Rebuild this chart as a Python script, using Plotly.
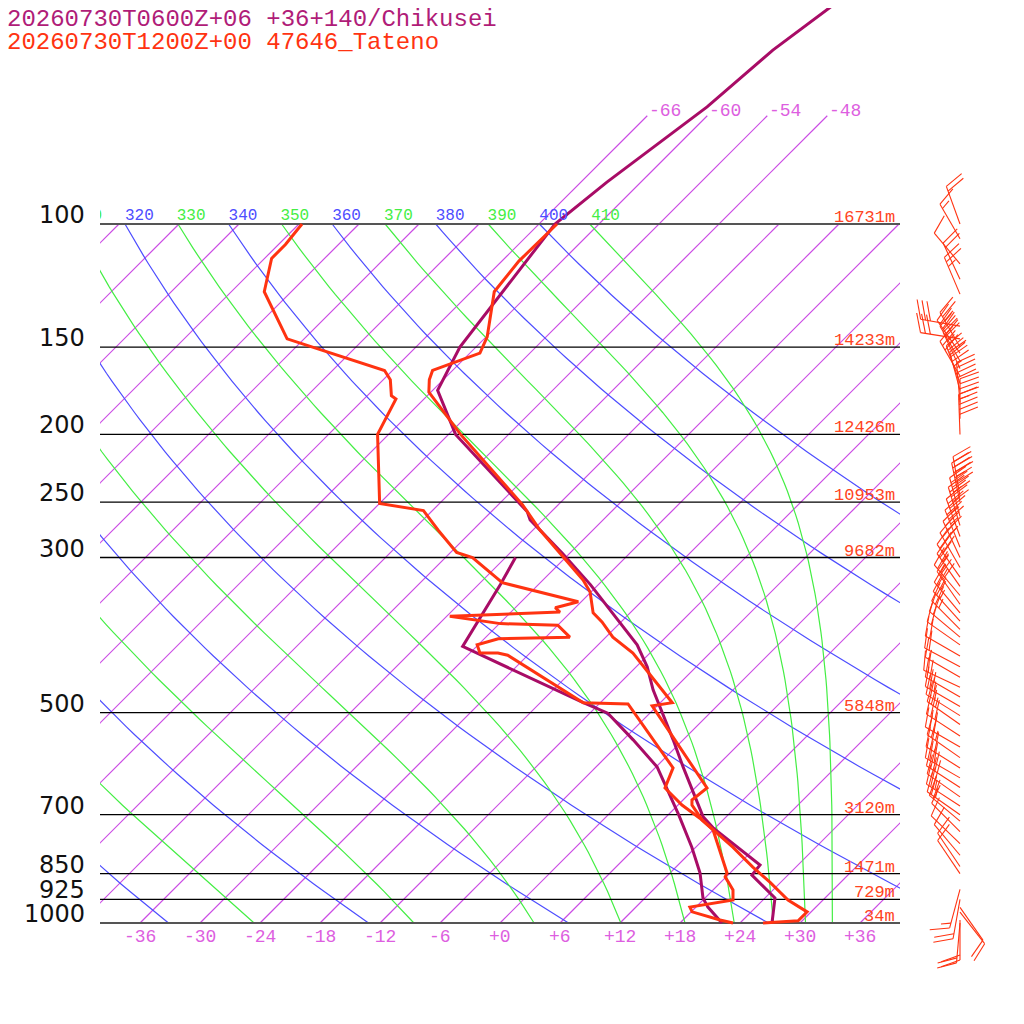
'''skew-T: Chikusei model vs Tateno sounding'''

import math
import numpy as np
import plotly.graph_objects as go

# %% data
title_model = "20260730T0600Z+06 +36+140/Chikusei"
title_obs = "20260730T1200Z+00 47646_Tateno"

# Tateno observation: temperature
obs_t_p = [1000, 993, 964, 927, 874, 832, 779, 736, 712, 678, 667, 641, 489, 484, 435, 411, 390, 376, 371,
           360, 348, 336, 323, 295, 274, 252, 200, 174, 167, 162, 153, 145, 133, 125, 113, 106, 100]
obs_t = [26.3, 29.6, 29.6, 26.5, 22.9, 19.7, 15.7, 12.0, 9.9, 7.4, 6.9, 7.2, -6.5, -4.8, -10.6, -13.7, -17.3,
         -19.2, -19.9, -21.7, -22.9, -24.1, -26.0, -31.1, -35.3, -39.6, -52.8, -60.2, -61.4, -62.0, -59.0,
         -59.9, -62.1, -63.7, -64.3, -64.3, -64.2]

# Tateno observation: dew point
obs_td_p = [1000, 990, 964, 949, 927, 897, 859, 848, 736, 708, 678, 641, 600, 496, 486, 484, 414, 411, 411, 400,
            392, 390, 375, 373, 364, 359, 354, 347, 326, 300, 295, 274, 257, 251, 200, 178, 176, 167, 162, 146,
            125, 112, 107, 100]
obs_td = [23.3, 21.7, 18.1, 17.4, 21.0, 20.0, 17.9, 17.7, 12.0, 9.5, 6.4, 3.0, 1.8, -8.1, -9.1, -13.7, -26.0,
          -27.2, -29.0, -30.1, -28.6, -21.6, -24.0, -29.9, -35.7, -25.1, -26.0, -24.3, -33.8, -39.3, -41.4,
          -45.5, -48.9, -54.0, -61.1, -62.8, -63.6, -65.3, -66.8, -79.7, -86.7, -89.3, -89.3, -89.7]

# model (Chikusei) temperature / dew point
mod_t_p = [1000, 921, 854, 826, 731, 705, 598, 547, 464, 430, 400, 328, 296, 265, 258, 200, 173, 150, 100,
           87.1, 68.0, 56.4, 47.8]
mod_t = [27.2, 25.0, 20.4, 20.2, 11.8, 9.7, 2.7, -1.0, -8.0, -10.9, -14.1, -24.8, -30.7, -37.3, -38.4, -53.3,
         -59.5, -61.6, -64.4, -63.4, -60.9, -60.0, -58.3]
mod_td_p = [1000, 949, 921, 848, 779, 701, 598, 547, 501, 484, 402, 328, 300]
mod_td = [22.2, 19.2, 17.8, 15.0, 11.6, 7.1, 0.1, -5.0, -10.2, -13.7, -31.4, -33.8, -35.0]

# observed wind (hPa, deg, kt)
wind_p = [100, 105, 114, 120, 126, 140, 146, 150, 153, 157, 161, 165, 169, 173, 180, 190, 200,
          245, 250, 262, 270, 280, 290, 300, 310, 320, 330, 340, 350, 360, 370, 380, 390, 400,
          415, 430, 445, 460, 475, 490, 505, 520, 540, 560, 580, 600, 620, 640, 660, 680, 700, 715,
          740, 770, 800, 830, 850, 895, 925, 950, 965, 990, 1000]
wind_dir = [340, 330, 320, 335, 337, 280, 279, 330, 325, 330, 335, 330, 340, 345, 355, 0, 358,
            350, 348, 345, 343, 340, 338, 335, 330, 325, 325, 320, 325, 320, 318, 315, 310, 305,
            300, 298, 300, 295, 300, 300, 302, 305, 303, 300, 305, 302, 300, 303, 305, 303, 305, 310,
            315, 314, 320, 326, 326, 195, 190, 145, 142, 180, 185]
wind_kt = [20, 15, 10, 20, 25, 30, 30, 25, 30, 30, 25, 30, 30, 35, 40, 45, 50,
           45, 50, 40, 40, 35, 35, 35, 30, 30, 25, 25, 30, 25, 25, 25, 20, 20,
           20, 20, 15, 20, 25, 25, 25, 25, 30, 30, 25, 30, 30, 30, 30, 25, 25, 20,
           10, 10, 10, 10, 10, 15, 20, 10, 10, 20, 20]

# standard levels and heights
lev_p = [100, 150, 200, 250, 300, 500, 700, 850, 925, 1000]
lev_z = [16731, 14233, 12426, 10953, 9682, 5848, 3120, 1471, 729, 34]

isotherms = list(range(-108, 37, 6))
isotherms_top = [-66, -60, -54, -48]
temp_ticks = list(range(-36, 37, 6))
dry_theta = list(range(240, 401, 20))
moist_thetae = list(range(250, 411, 20))

# %% helpers
SKEW = 69.9          # degC shift per decade of pressure (45 deg skew)
PX_DEC = 699.0       # pixels per decade of pressure
Y1000 = 923.0        # pixel row of 1000 hPa (page coords)
OFF = 8              # page body margin
SIZE = 1024 - OFF

C_ISO = '#cb4ce4'
C_DRY = '#4d4dff'
C_MOIST = '#44ee44'
C_OBS = '#ff3311'
C_MOD = '#a80c66'
C_TXT = '#dd5ee0'
MONO = 'Liberation Mono'


def skx(t, p):
    return np.asarray(t, float) + SKEW * np.log10(1000.0 / np.asarray(p, float))


def pres(ypix):
    return 1000.0 * 10 ** ((ypix - Y1000) / PX_DEC)


def ypix(p):
    return Y1000 - PX_DEC * math.log10(1000.0 / p)


def moist_t(thetae, p):
    tk = np.arange(150.0, 320.0, 0.05)
    tc = tk - 273.15
    es = 6.112 * np.exp(17.67 * tc / (tc + 243.5))
    ok = es < 0.5 * p
    tk = tk[ok]
    es = es[ok]
    r = 622.0 * es / (p - es)
    th = tk * (1000.0 / p) ** (0.2854 * (1 - 0.00028 * r)) * np.exp((3.376 / tk - 0.00254) * r * (1 + 0.00081 * r))
    return float(np.interp(thetae, th, tk)) - 273.15


def join(parts):
    xs, ys = [], []
    for x, y in parts:
        xs += list(x) + [None]
        ys += list(y) + [None]
    return xs, ys


# %% background lines
plev = np.geomspace(1000, 100, 90)

iso_parts = []
for t in isotherms:
    ptop = 70 if t in isotherms_top else 100
    iso_parts.append((skx([t, t], [1000, ptop]), [1000, ptop]))
iso_x, iso_y = join(iso_parts)

dry_x, dry_y = join([(skx(th * (plev / 1000) ** 0.2857 - 273.15, plev), plev) for th in dry_theta])
moist_x, moist_y = join([(skx([moist_t(te, p) for p in plev], plev), plev) for te in moist_thetae])

bar_x, bar_y = join([([-40, 40], [p, p]) for p in lev_p if p not in (100, 1000)])
edge_x, edge_y = join([([-40, 40], [p, p]) for p in (100, 1000)])

# %% wind barbs (page pixels on x2, pressure on y2)
STAFF, FEATH, GAP, TILT = 40.0, 20.0, 5.0, math.radians(20)
barb_parts = []
for p, d, s in zip(wind_p, wind_dir, wind_kt):
    a = math.radians(d)
    ux, uy = math.sin(a), -math.cos(a)
    px, py = math.cos(a), math.sin(a)
    fx = math.cos(TILT) * px + math.sin(TILT) * ux
    fy = math.cos(TILT) * py + math.sin(TILT) * uy
    bx, by = 960.0, ypix(p)
    tx, ty = bx + STAFF * ux, by + STAFF * uy
    barb_parts.append(([bx, tx], [pres(by), pres(ty)]))
    nfull, half = int(s // 10), (s % 10) >= 5
    for i in range(nfull + (1 if half else 0)):
        sx, sy = tx - i * GAP * ux, ty - i * GAP * uy
        ln = FEATH if i < nfull else FEATH / 2
        barb_parts.append(([sx, sx + ln * fx], [pres(sy), pres(sy + ln * fy)]))
barb_x, barb_y = join(barb_parts)

# %% figure
fig = go.Figure()
thin = dict(mode='lines', hoverinfo='skip', xaxis='x', yaxis='y')
fig.add_trace(go.Scatter(x=iso_x, y=iso_y, line=dict(color=C_ISO, width=1.2), **thin))
fig.add_trace(go.Scatter(x=dry_x, y=dry_y, line=dict(color=C_DRY, width=1.2), **thin))
fig.add_trace(go.Scatter(x=moist_x, y=moist_y, line=dict(color=C_MOIST, width=1.2), **thin))
fig.add_trace(go.Scatter(x=bar_x, y=bar_y, line=dict(color='#000000', width=1.3), **thin))
fig.add_trace(go.Scatter(x=edge_x, y=edge_y, line=dict(color='#555555', width=2), **thin))

for pp, tt, col in [(mod_td_p, mod_td, C_MOD), (mod_t_p, mod_t, C_MOD),
                    (obs_td_p, obs_td, C_OBS), (obs_t_p, obs_t, C_OBS)]:
    fig.add_trace(go.Scatter(x=skx(tt, pp), y=pp, mode='lines', hoverinfo='skip',
                             line=dict(color=col, width=3)))

# theta labels along 100 hPa (clipped by the box)
lab_th = dry_theta + moist_thetae
lab_col = [C_DRY] * len(dry_theta) + [C_MOIST] * len(moist_thetae)
fig.add_trace(go.Scatter(
    x=skx([th * 0.1 ** 0.2857 - 273.15 for th in lab_th], [100] * len(lab_th)),
    y=[100] * len(lab_th), mode='text', text=[str(v) for v in lab_th],
    textposition='top right', textfont=dict(family=MONO, size=16, color=lab_col),
    cliponaxis=True, hoverinfo='skip'))

fig.add_trace(go.Scatter(x=barb_x, y=barb_y, mode='lines', hoverinfo='skip',
                         line=dict(color=C_OBS, width=1.1), xaxis='x2', yaxis='y2'))

ann = []
for p, z in zip(lev_p, lev_z):
    ann.append(dict(xref='x2', yref='y2', x=87, y=math.log10(p), text=str(p), showarrow=False,
                    xanchor='right', yanchor='bottom', yshift=-7,
                    font=dict(family='DejaVu Sans', size=24, color='#111111')))
    ann.append(dict(xref='x2', yref='y2', x=897, y=math.log10(p), text=f'{z}m', showarrow=False,
                    xanchor='right', yanchor='bottom', yshift=-5,
                    font=dict(family=MONO, size=17, color='#ff4422')))
for t in temp_ticks:
    ann.append(dict(xref='x', yref='y', x=t, y=3, text=f'{t:+d}', showarrow=False,
                    xanchor='center', yanchor='top', yshift=-2,
                    font=dict(family=MONO, size=18, color=C_TXT)))
for t in isotherms_top:
    ann.append(dict(xref='x', yref='y', x=float(skx(t, 70)), y=math.log10(70), text=f'{t:+d}',
                    showarrow=False, xanchor='left', yanchor='middle', yshift=5,
                    font=dict(family=MONO, size=18, color=C_TXT)))
for txt, yc, col in [(title_model, 19.5, '#b01c78'), (title_obs, 42.5, C_OBS)]:
    ann.append(dict(xref='paper', yref='paper', x=(5 - OFF) / SIZE, y=1 - (yc - OFF) / SIZE, text=txt,
                    showarrow=False, xanchor='left', yanchor='middle',
                    font=dict(family=MONO, size=24, color=col)))

yrange = [math.log10(pres(1024)), math.log10(pres(OFF))]
fig.update_layout(
    width=SIZE, height=SIZE, margin=dict(l=0, r=0, t=0, b=0),
    paper_bgcolor='white', plot_bgcolor='rgba(0,0,0,0)', showlegend=False,
    xaxis=dict(domain=[(100 - OFF) / SIZE, (900 - OFF) / SIZE], range=[-40, 40], visible=False, anchor='y'),
    yaxis=dict(domain=[0, 1], type='log', range=yrange, visible=False, anchor='x'),
    xaxis2=dict(domain=[0, 1], range=[OFF, 1024], visible=False, anchor='y2'),
    yaxis2=dict(domain=[0, 1], type='log', range=yrange, visible=False, anchor='x2'),
    annotations=ann,
)

fig.write_html("out.html")
